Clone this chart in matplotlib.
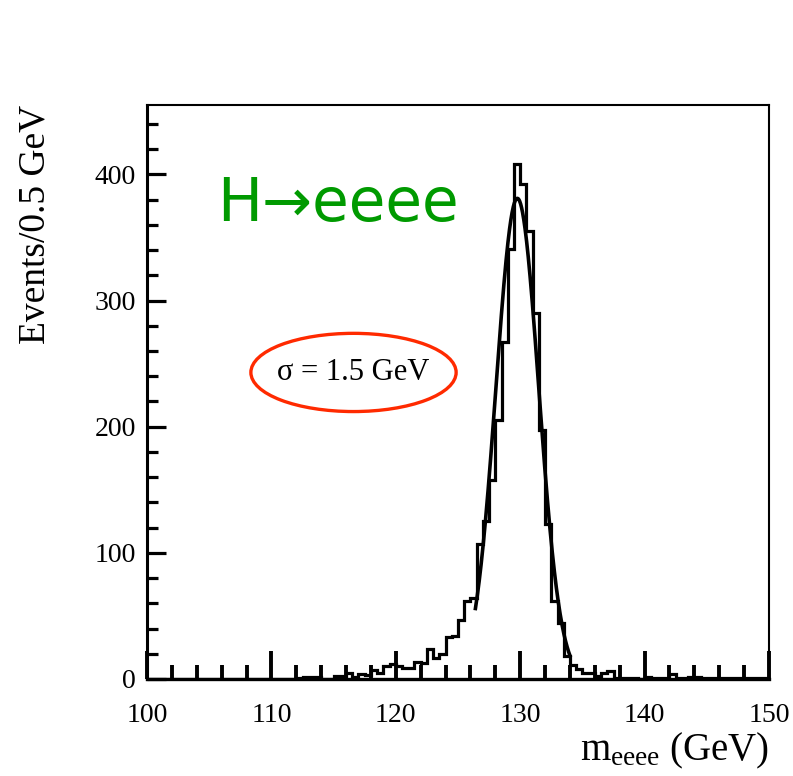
import numpy as np
import matplotlib
matplotlib.use("Agg")
import matplotlib.pyplot as plt
from matplotlib.patches import Ellipse

# ---- data ----
bin_edges_start = 100.0
bin_width = 0.5
counts = [
    # 100 - 105
    0, 0, 0, 0, 0, 0, 0, 0, 0, 0,
    # 105 - 110
    0, 0, 0, 0, 0, 0, 0, 0, 0, 0,
    # 110 - 115
    0, 0, 0, 0, 1, 1.5, 1.5, 1.5, 0, 0,
    # 115 - 120
    2.5, 2.5, 4.5, 1.5, 4, 3, 7, 5, 10.5, 11.5,
    # 120 - 125
    10, 9, 8.5, 13.5, 13, 23.5, 17, 20, 33, 34,
    # 125 - 130
    47, 62, 64, 107, 125, 158, 205, 267, 341, 408,
    # 130 - 135
    392, 355, 290, 197, 123, 62, 44, 18, 11, 7.7,
    # 135 - 140
    5, 5, 2.5, 4.5, 6.5, 1, 0.5, 0.5, 0.5, 0,
    # 140 - 145
    1.3, 0.5, 1, 1, 4, 1, 1, 1.5, 1.5, 1,
    # 145 - 150
    0.5, 0.5, 0.5, 0.5, 0.5, 0.5, 0.5, 0.5, 0.5, 0.5,
]
fit_peak = 381.0
fit_mean = 129.77
fit_sigma = 1.72
fit_range = (126.4, 134.0)

x_ticks = [100, 110, 120, 130, 140, 150]
y_ticks = [0, 100, 200, 300, 400]

# ---- figure ----
plt.rcParams['font.family'] = ['Liberation Serif', 'DejaVu Serif']
plt.rcParams['mathtext.fontset'] = 'custom'
plt.rcParams['mathtext.rm'] = 'Liberation Serif'
plt.rcParams['mathtext.it'] = 'Liberation Serif'

fig = plt.figure(figsize=(7.93, 7.76), dpi=100)
ax = fig.add_axes([147/793, 97/776, 622/793, 574/776])

edges = bin_edges_start + bin_width * np.arange(len(counts) + 1)
ax.stairs(counts, edges, color='black', lw=2.3, baseline=None)

xf = np.linspace(fit_range[0], fit_range[1], 300)
yf = fit_peak * np.exp(-0.5 * ((xf - fit_mean) / fit_sigma) ** 2)
ax.plot(xf, yf, color='black', lw=2.6)

ax.set_xlim(100, 150)
ax.set_ylim(0, 455)
ax.set_xticks(x_ticks)
ax.set_yticks(y_ticks)
ax.set_xticks(np.arange(100, 151, 2), minor=True)
ax.set_yticks(np.arange(0, 451, 20), minor=True)

ax.tick_params(axis='x', which='major', direction='in', length=20, width=2.8,
               labelsize=20, pad=17, top=False)
ax.tick_params(axis='x', which='minor', direction='in', length=10, width=2.8, top=False)
ax.tick_params(axis='y', which='major', direction='in', length=14, width=2.3,
               labelsize=20, pad=8, right=False)
ax.tick_params(axis='y', which='minor', direction='in', length=8, width=2.3, right=False)

for s in ['top', 'right']:
    ax.spines[s].set_linewidth(1.5)
ax.spines['left'].set_linewidth(2.2)
ax.spines['bottom'].set_linewidth(2.4)

ax.set_ylabel('Events/0.5 GeV', fontsize=27, loc='top', labelpad=30)
ax.set_xlabel(r'm$_{\mathregular{eeee}}$ (GeV)', fontsize=28, loc='right', labelpad=2)

ax.text(0.113, 0.826, 'H\u2192eeee', transform=ax.transAxes, fontsize=43,
        color='#009a00', family='DejaVu Sans', ha='left', va='center')

ell = Ellipse((116.6, 243), 16.5, 62, fill=False, edgecolor='#ff2a00', lw=2.4)
ax.add_patch(ell)
ax.text(116.6, 243, '\u03c3 = 1.5 GeV', fontsize=22, ha='center', va='center')

fig.savefig('out.png', dpi=100)
